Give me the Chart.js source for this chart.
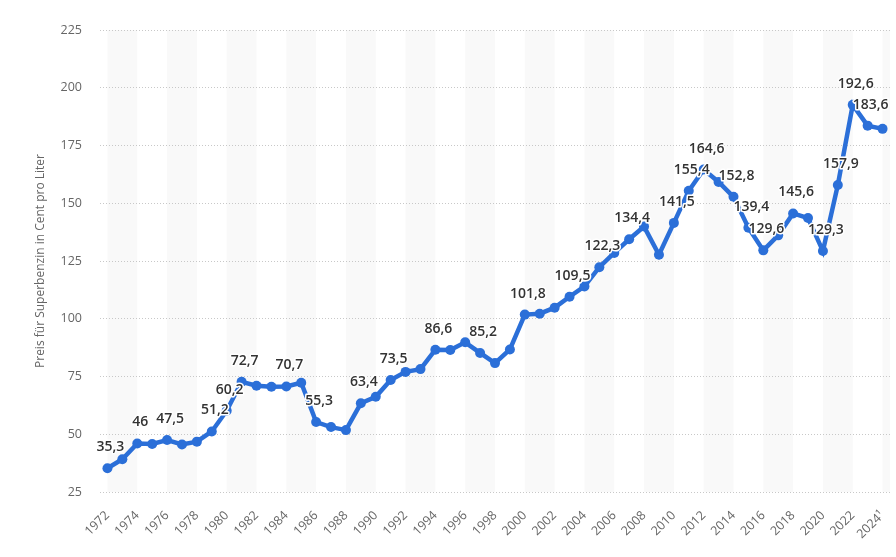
<!DOCTYPE html>
<html>
<head>
<meta charset="utf-8">
<script src="https://cdn.jsdelivr.net/npm/chart.js@4/dist/chart.umd.min.js"></script>
<style>
  body { margin: 0; background: #fff; }
  #wrap { width: 896px; height: 557px; position: relative; }
</style>
</head>
<body>
<div id="wrap"><canvas id="priceChart"></canvas></div>
<script>
// years on the x axis (last one is provisional)
const years = ["1972","1973","1974","1975","1976","1977","1978","1979","1980","1981",
    "1982","1983","1984","1985","1986","1987","1988","1989","1990","1991",
    "1992","1993","1994","1995","1996","1997","1998","1999","2000","2001",
    "2002","2003","2004","2005","2006","2007","2008","2009","2010","2011",
    "2012","2013","2014","2015","2016","2017","2018","2019","2020","2021",
    "2022","2023","2024¹"];

// Preis für Superbenzin, Cent pro Liter
const prices = [35.3, 39.2, 46, 45.8, 47.5, 45.6, 46.8, 51.2, 60.2, 72.7,
    71.0, 70.6, 70.7, 72.3, 55.3, 53.1, 51.8, 63.4, 66.2, 73.5,
    77.0, 78.2, 86.6, 86.5, 89.8, 85.2, 80.8, 86.7, 101.8, 102.2,
    104.8, 109.5, 114.0, 122.3, 128.5, 134.4, 139.9, 127.7, 141.5, 155.4,
    164.6, 159.2, 152.8, 139.4, 129.6, 136.1, 145.6, 143.6, 129.3, 157.9,
    192.6, 183.6, 182.2];

// which points carry a value label
const labeledYears = ["1972","1974","1976","1979","1980","1981","1984","1986","1989","1991",
    "1994","1997","2000","2003","2005","2007","2010","2011","2012","2014",
    "2015","2016","2018","2020","2021","2022","2023"];

const yTicks = [25, 50, 75, 100, 125, 150, 175, 200, 225];

const lineColor = "#2b6fd8";

// light grey columns, two years wide, every four years
const bandPlugin = {
    id: "bands",
    beforeDraw(chart) {
        const { ctx, chartArea } = chart;
        const x = chart.scales.x;
        ctx.save();
        ctx.fillStyle = "#f9f9f9";
        for (let i = 0; i < years.length; i += 4) {
            const x1 = x.getPixelForValue(i);
            const x2 = Math.min(x.getPixelForValue(i + 2), chartArea.right);
            ctx.fillRect(x1, chartArea.top, x2 - x1, chartArea.bottom - chartArea.top);
        }
        ctx.restore();
    }
};

// value labels above selected points
const labelPlugin = {
    id: "valueLabels",
    afterDatasetsDraw(chart) {
        const { ctx } = chart;
        const meta = chart.getDatasetMeta(0);
        ctx.save();
        ctx.font = "600 14px 'Open Sans'";
        ctx.textAlign = "center";
        ctx.textBaseline = "alphabetic";
        ctx.lineJoin = "round";
        meta.data.forEach((pt, i) => {
            if (!labeledYears.includes(years[i])) return;
            const txt = String(prices[i]).replace(".", ",");
            const lx = pt.x + 3;
            const ly = pt.y - 17;
            ctx.lineWidth = 3;
            ctx.strokeStyle = "#ffffff";
            ctx.strokeText(txt, lx, ly);
            ctx.fillStyle = "#333333";
            ctx.fillText(txt, lx, ly);
        });
        ctx.restore();
    }
};

const ctx = document.getElementById("priceChart").getContext("2d");
const chart = new Chart(ctx, {
    type: "line",
    data: {
        labels: years,
        datasets: [{
            data: prices,
            borderColor: lineColor,
            backgroundColor: lineColor,
            borderWidth: 4.5,
            pointRadius: 5,
            pointBorderWidth: 0,
            pointBackgroundColor: lineColor,
            tension: 0
        }]
    },
    options: {
        responsive: true,
        maintainAspectRatio: false,
        animation: false,
        layout: { padding: { top: 30, right: 6, left: 0, bottom: 0 } },
        plugins: {
            legend: { display: false },
            tooltip: { enabled: false }
        },
        scales: {
            x: {
                offset: true,
                grid: { display: false, drawTicks: false },
                border: { display: false },
                ticks: {
                    autoSkip: false,
                    minRotation: 45,
                    maxRotation: 45,
                    padding: 16,
                    color: "#666666",
                    font: { family: "'Open Sans'", size: 12.5 },
                    callback: function (val, i) { return i % 2 === 0 ? years[i] : null; }
                },
                afterFit(scale) {
                    scale.height = 65;
                    scale.paddingRight = 0;
                    scale.paddingLeft = 0;
                }
            },
            y: {
                min: 25,
                max: 225,
                afterBuildTicks(scale) { scale.ticks = yTicks.map(v => ({ value: v })); },
                grid: { color: "#c8c8c8", lineWidth: 1, drawTicks: false },
                border: { display: false, dash: [1, 2] },
                ticks: {
                    padding: 18,
                    color: "#666666",
                    font: { family: "'Open Sans'", size: 12.5 }
                },
                title: {
                    display: true,
                    text: "Preis für Superbenzin in Cent pro Liter",
                    color: "#666666",
                    font: { family: "'Open Sans'", size: 12 },
                    padding: { top: 33, bottom: 0 }
                },
                afterFit(scale) { scale.width = 100; }
            }
        }
    },
    plugins: [bandPlugin, labelPlugin]
});
</script>
</body>
</html>
